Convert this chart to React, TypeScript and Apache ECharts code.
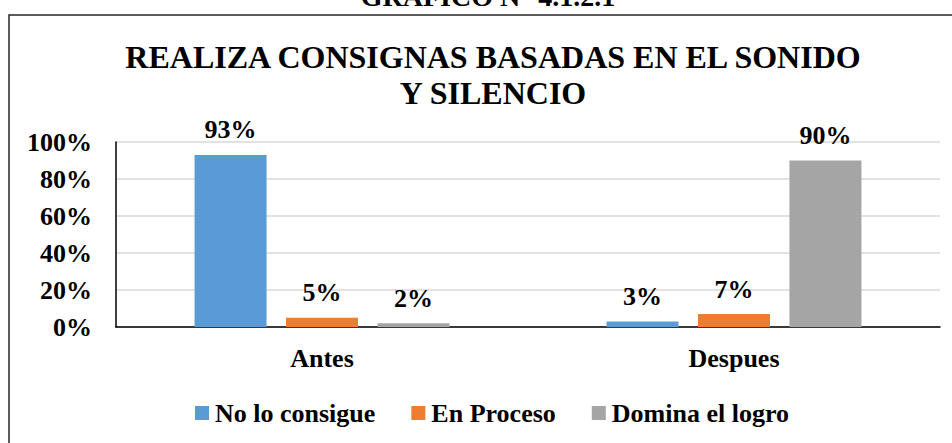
import React, { useEffect, useRef } from "react";
import * as echarts from "echarts";

const categories = ["Antes", "Despues"];
const seriesNames = ["No lo consigue", "En Proceso", "Domina el logro"];
const noLoConsigue = [0.93, 0.03];
const enProceso = [0.05, 0.07];
const dominaElLogro = [0.02, 0.9];
const colors = ["#5B9BD5", "#ED7D31", "#A5A5A5"];
const yTicks = [0, 0.2, 0.4, 0.6, 0.8, 1.0];

const FONT = "Liberation Serif";

export default function App() {
  const ref = useRef<HTMLDivElement>(null);
  useEffect(() => {
    if (!ref.current) return;
    const chart = echarts.init(ref.current, null, { renderer: "svg" });
    const values = [noLoConsigue, enProceso, dominaElLogro];
    const pct = (v: number) => Math.round(v * 100) + "%";
    chart.setOption({
      animation: false,
      backgroundColor: "#ffffff",
      textStyle: { fontFamily: FONT },
      graphic: [
        {
          type: "rect",
          shape: { x: 9, y: 15, width: 960, height: 440 },
          style: { fill: "none", stroke: "#262626", lineWidth: 1.5 },
          silent: true,
        },
        {
          type: "text",
          x: 488,
          y: 10,
          style: {
            text: "GRAFICO N° 4.1.2.1",
            fontFamily: FONT,
            fontSize: 28,
            fontWeight: "bold",
            fill: "#000",
            textAlign: "center",
            textVerticalAlign: "bottom",
          },
        },
      ],
      title: {
        text: "REALIZA CONSIGNAS BASADAS EN EL SONIDO\nY SILENCIO",
        left: 488,
        textAlign: "center",
        top: 34,
        textStyle: {
          fontFamily: FONT,
          fontSize: 32,
          fontWeight: "bold",
          color: "#000",
          lineHeight: 36,
        },
      },
      legend: {
        data: seriesNames,
        left: 190,
        top: 395,
        itemWidth: 14,
        itemHeight: 14,
        itemGap: 36,
        icon: "rect",
        textStyle: { fontFamily: FONT, fontSize: 26, fontWeight: "bold", color: "#000", padding: [0, 0, 0, 1] },
      },
      grid: { left: 116, right: 12, top: 142, bottom: 116, containLabel: false },
      xAxis: {
        type: "category",
        data: categories,
        axisLine: { lineStyle: { color: "#000", width: 1.5 } },
        axisTick: { show: false },
        axisLabel: {
          fontFamily: FONT,
          fontSize: 26,
          fontWeight: "bold",
          color: "#000",
          margin: 18,
        },
      },
      yAxis: {
        type: "value",
        min: 0,
        max: 1,
        interval: 0.2,
        axisLine: { show: true, lineStyle: { color: "#000", width: 1.5 } },
        axisTick: { show: false },
        splitLine: { lineStyle: { color: "#d9d9d9", width: 1.5 } },
        axisLabel: {
          fontFamily: FONT,
          fontSize: 26,
          fontWeight: "bold",
          color: "#000",
          margin: 24,
          formatter: (v: number) => (yTicks.some((t) => Math.abs(t - v) < 1e-9) ? pct(v) : ""),
        },
      },
      series: seriesNames.map((name, i) => ({
        name,
        type: "bar",
        data: values[i],
        barWidth: 72,
        barGap: "27%",
        itemStyle: { color: colors[i] },
        label: {
          show: true,
          position: "top",
          distance: 12,
          fontFamily: FONT,
          fontSize: 26,
          fontWeight: "bold",
          color: "#000",
          formatter: (p: any) => pct(p.value),
        },
      })),
    });
    return () => chart.dispose();
  }, []);
  return (
    <div
      ref={ref}
      style={{ position: "fixed", left: 0, top: 0, width: 952, height: 443 }}
    />
  );
}
